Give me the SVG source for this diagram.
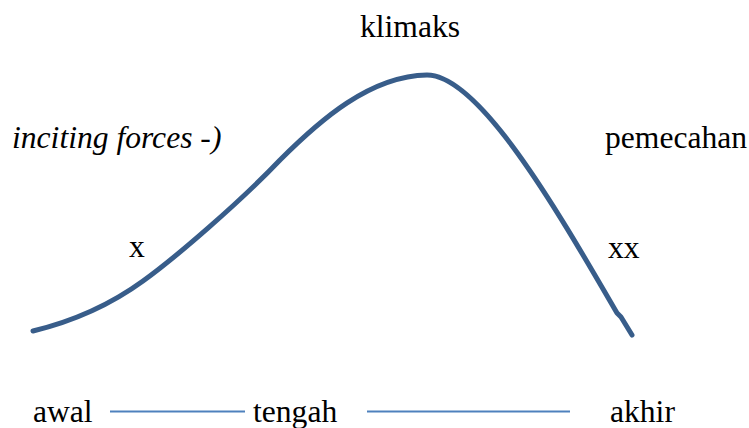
<svg xmlns="http://www.w3.org/2000/svg" width="749" height="428" viewBox="0 0 749 428">
<style>
.curve{fill:none;stroke:#385D8A;stroke-width:5;stroke-linecap:round;stroke-linejoin:round}
.line{fill:none;stroke:#4F81BD;stroke-width:2.2}
</style>
<rect width="749" height="428" fill="#ffffff"/>
<g id="connectors">
<path class="curve" d="M33,331 C70,322 110,305 143,281 C175,258 240,202 280,160 C320,120 370,76 427,75 C480,75 560,215 617,313 L621,317 L632,335"/>
<line class="line" x1="110" y1="411.5" x2="245" y2="411.5"/>
<line class="line" x1="367" y1="411.5" x2="570" y2="411.5"/>
</g>
<g font-family="'Liberation Serif', serif" font-size="31.6" fill="#000">
<g id="klimaks"><text x="360" y="37">klimaks</text></g>
<g id="inciting"><text x="12" y="148" font-style="italic">inciting forces -)</text></g>
<g id="pemecahan"><text x="605" y="148">pemecahan</text></g>
<g id="x"><text x="129" y="257">x</text></g>
<g id="xx"><text x="608" y="258">xx</text></g>
<g id="awal"><text x="33" y="422">awal</text></g>
<g id="tengah"><text x="253" y="422">tengah</text></g>
<g id="akhir"><text x="610" y="422">akhir</text></g>
</g>
</svg>
